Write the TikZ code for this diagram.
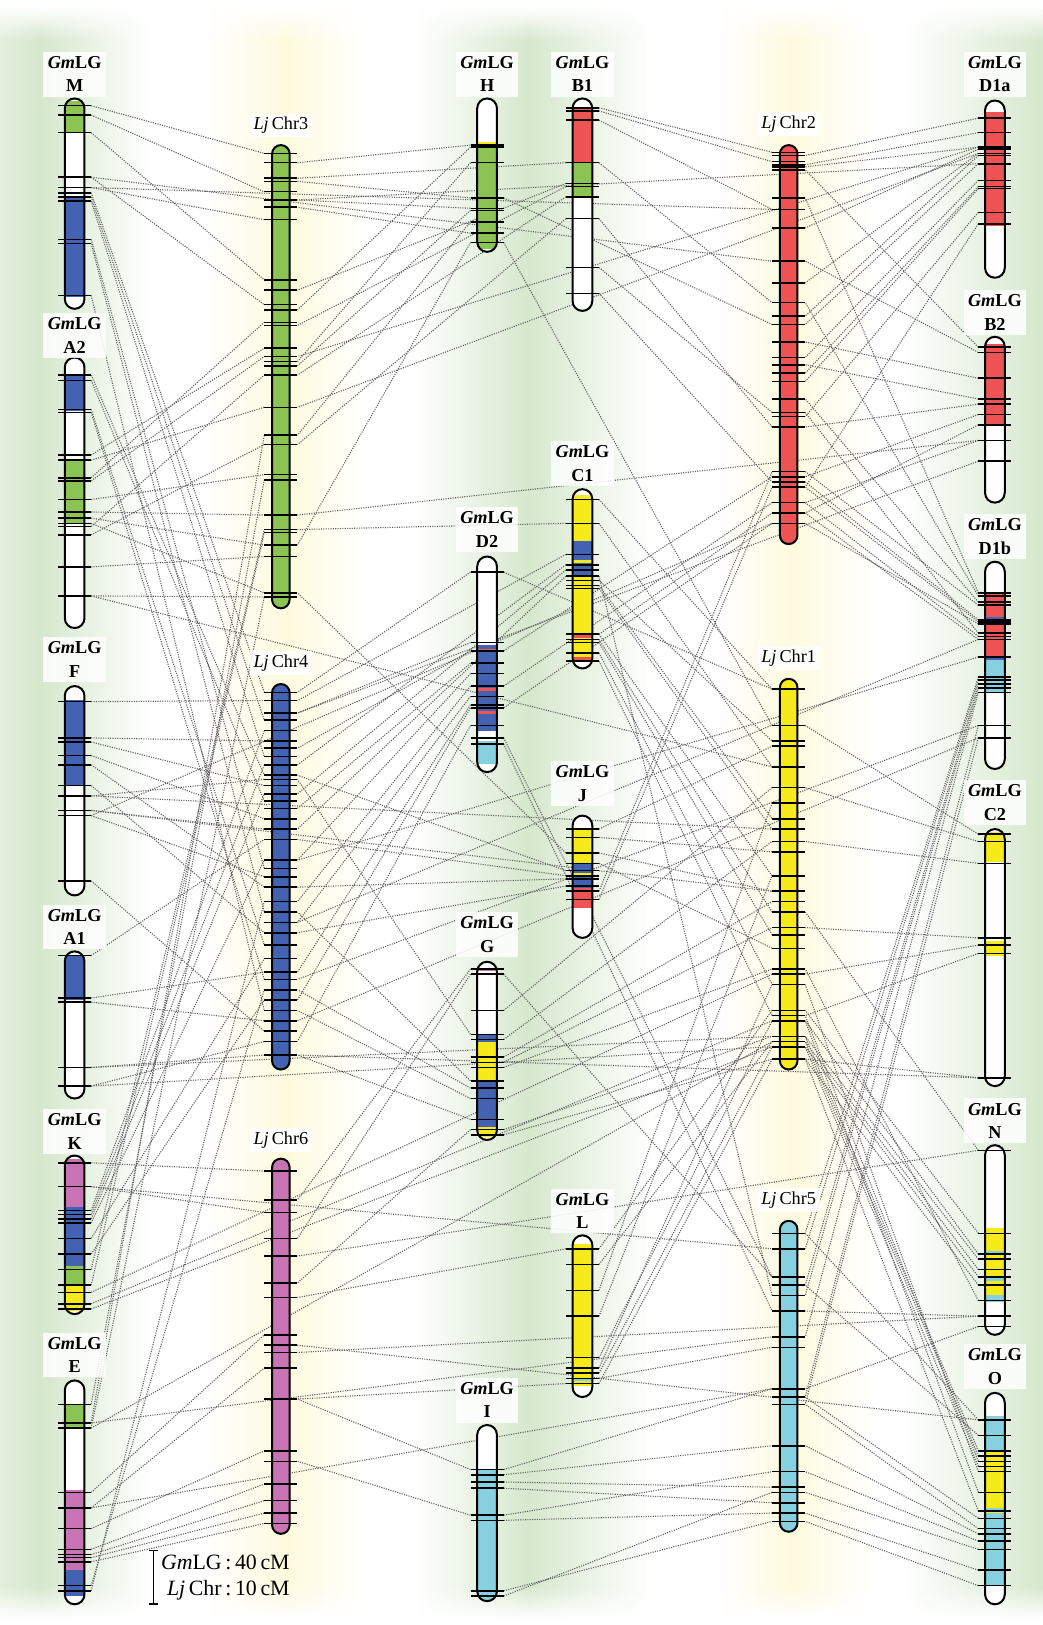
\documentclass[tikz,border=0pt]{standalone}
\usepackage{fontspec}
\setmainfont{Liberation Serif}
\usetikzlibrary{fadings}
\definecolor{lggreen}{RGB}{139,196,82}
\definecolor{lgblue}{RGB}{68,98,178}
\definecolor{lgred}{RGB}{238,84,84}
\definecolor{lgyellow}{RGB}{246,234,26}
\definecolor{lgpink}{RGB}{200,116,180}
\definecolor{lgcyan}{RGB}{134,208,224}
\definecolor{bandgreen}{RGB}{214,232,205}
\definecolor{bandyellow}{RGB}{254,250,222}
\pgfdeclarelayer{bands}
\pgfdeclarelayer{links}
\pgfsetlayers{bands,links,main}
\tikzset{
  chrom/.style={draw=black, line width=1.1pt},
  tickpt/.style={inner sep=0pt, outer sep=0pt, minimum width=0.64cm, minimum height=0pt},
  tickln/.style={draw=black, line width=0.85pt},
  link/.style={draw=black!62, line width=0.6pt, dash pattern=on 0.6pt off 0.7pt},
  gmlab/.style={fill=white, fill opacity=0.85, text opacity=1, inner sep=2.5pt, align=center, font=\fontsize{10}{13}\selectfont\bfseries},
  ljlab/.style={fill=white, fill opacity=0.85, text opacity=1, inner sep=2pt, font=\fontsize{10}{12}\selectfont},
}
% name, x, top, bottom, half width, segments, ticks
\newcommand{\chrom}[7]{%
  \begin{scope}
    \clip[rounded corners=#5*0.02cm] (#2-#5,#3) rectangle (#2+#5,#4);
    \fill[white] (#2-#5,#3) rectangle (#2+#5,#4);
    \foreach \ya/\yb/\sc in {#6} \fill[\sc] (#2-#5,\ya) rectangle (#2+#5,\yb);
  \end{scope}
  \draw[chrom, rounded corners=#5*0.02cm] (#2-#5,#3) rectangle (#2+#5,#4);
  \foreach \ty [count=\ti] in {#7} {
    \node[tickpt] (#1-\ti) at (#2,\ty) {};
    \draw[tickln] (#1-\ti.west) -- (#1-\ti.east);
  }%
}

\begin{document}
\begin{tikzpicture}[x=0.02cm, y=-0.02cm]
\useasboundingbox (0,0) rectangle (1006,1568);

% background bands
\begin{pgfonlayer}{bands}
\fill[white] (0,0) rectangle (1006,1568);
\shade[left color=bandgreen!70, right color=bandgreen] (0,8) rectangle (40,1560);
\shade[left color=bandgreen, right color=white] (40,8) rectangle (145,1560);
\shade[left color=white, right color=bandyellow] (195,8) rectangle (275,1560);
\shade[left color=bandyellow, right color=white] (275,8) rectangle (350,1560);
\shade[left color=white, right color=bandgreen] (400,8) rectangle (510,1560);
\shade[left color=bandgreen, right color=white] (510,8) rectangle (630,1560);
\shade[left color=white, right color=bandyellow] (690,8) rectangle (765,1560);
\shade[left color=bandyellow, right color=white] (765,8) rectangle (840,1560);
\shade[left color=white, right color=bandgreen] (870,8) rectangle (1006,1560);
\fill[white, path fading=south] (0,6) rectangle (1006,40);
\fill[white, path fading=north] (0,1530) rectangle (1006,1562);
\end{pgfonlayer}

% Lotus chromosomes
\chrom{Lj3}{271}{140}{587}{8.5}{140/587/lggreen}{148,157,172,175,185,193,200,212,270,280,294,299,311,314,336,344,349,353,362,393,420,429,458,463,497,511,514,526,537,572,576}
\chrom{Lj4}{271}{660}{1032}{8.5}{660/1032/lgblue}{668,676,688,695,705,715,722,730,738,748,752,758,766,773,780,790,800,810,830,838,846,856,870,880,890,900,912,925,938,945,955,965,975,985,995,1005,1018}
\chrom{Lj6}{271}{1118}{1480}{8.5}{1118/1480/lgpink}{1130,1158,1170,1195,1212,1238,1252,1288,1298,1305,1320,1350,1400,1410,1432,1448,1460,1470}
\chrom{Lj2}{761}{140}{525}{8.5}{140/525/lgred}{147,150,156,159,161,164,191,202,220,252,273,292,305,313,330,345,352,360,368,385,398,402,412,455,460,465,470,485,495,505}
\chrom{Lj1}{761}{655}{1032}{8.5}{655/1032/lgyellow}{665,700,715,720,740,760,775,790,800,812,822,845,860,870,880,895,902,915,935,940,950,975,980,985,1000,1005,1010,1022}
\chrom{Lj5}{761}{1178}{1478}{8.5}{1178/1478/lgcyan}{1190,1205,1232,1240,1250,1265,1290,1300,1340,1348,1355,1395,1420,1435,1440,1450,1460,1468}

% soybean linkage groups
\chrom{M}{72}{95}{298}{9.5}{97/128/lggreen,191/287/lgblue}{102,111,128,171,181,186,190,194,231,235,285}
\chrom{A2}{72}{345}{606}{9.5}{362/397/lgblue,444/505/lggreen}{362,367,395,398,439,444,461,464,482,494,500,505,508,516,547,575}
\chrom{F}{72}{662}{864}{9.5}{675/758/lgblue}{677,712,716,729,738,758,768,782,787,850}
\chrom{A1}{72}{918}{1060}{9.5}{922/965/lgblue}{922,963,967,1030,1048}
\chrom{K}{72}{1115}{1268}{9.5}{1118/1165/lgpink,1165/1222/lgblue,1222/1240/lggreen,1240/1265/lgyellow}{1122,1145,1168,1172,1176,1180,1195,1210,1225,1240,1247,1258,1263}
\chrom{E}{72}{1332}{1548}{9.5}{1355/1378/lggreen,1438/1515/lgpink,1515/1540/lgblue}{1355,1373,1378,1440,1455,1475,1495,1500,1503,1507,1530,1535}
\chrom{H}{470}{95}{243}{9.5}{137/140/lgyellow,140/240/lggreen}{140,142,157,191,201,203,214,225,234}
\chrom{D2}{470}{537}{745}{9.5}{622/705/lgblue,626/629/lgred,664/667/lgred,686/689/lgred,715/737/lgcyan}{552,620,628,640,650,662,672,680,683,700,712,718}
\chrom{G}{470}{928}{1100}{9.5}{934/937/lgpink,998/1005/lgblue,1005/1042/lgyellow,1042/1087/lgblue,1087/1097/lgyellow}{935,940,975,998,1003,1020,1025,1030,1043,1050,1060,1080,1090,1095}
\chrom{I}{470}{1375}{1545}{9.5}{1418/1545/lgcyan}{1418,1423,1430,1436,1462,1467,1535,1540}
\chrom{B1}{562}{95}{300}{9.5}{103/157/lgred,157/190/lggreen}{104,107,116,157,177,180,190,211,258,283}
\chrom{C1}{562}{472}{645}{9.5}{478/522/lgyellow,522/557/lgblue,540/543/lgyellow,557/612/lgyellow,612/616/lgred,616/634/lgyellow,634/639/lgred}{482,505,535,545,550,556,560,565,568,612,617,620,630,638}
\chrom{J}{562}{787}{905}{9.5}{800/833/lgyellow,833/857/lgblue,842/845/lgyellow,857/876/lgred}{800,808,823,833,840,845,848,855,860,868}
\chrom{L}{562}{1192}{1348}{9.5}{1200/1330/lgyellow,1330/1333/lgcyan,1333/1337/lgyellow}{1205,1220,1245,1270,1310,1320,1325,1330,1335}
\chrom{D1a}{960}{97}{268}{9.5}{108/218/lgred}{114,128,142,144,148,150,158,174,180,182,205,216}
\chrom{B2}{960}{325}{485}{9.5}{332/410/lgred}{335,340,365,385,390,400,410,425,445}
\chrom{D1b}{960}{542}{742}{9.5}{572/633/lgred,595/598/lgblue,633/637/lgblue,637/669/lgcyan}{572,575,581,584,598,600,602,611,614,617,634,653,656,660,664,668,700,712}
\chrom{C2}{960}{800}{1048}{9.5}{803/832/lgyellow,908/922/lgyellow}{805,812,833,905,912,920,1040}
\chrom{N}{960}{1105}{1288}{9.5}{1185/1255/lgyellow,1207/1210/lgcyan,1233/1236/lgcyan,1250/1256/lgcyan}{1110,1190,1210,1215,1225,1232,1240,1255,1270,1280}
\chrom{O}{960}{1344}{1548}{9.5}{1366/1400/lgcyan,1400/1460/lgyellow,1455/1458/lgcyan,1460/1530/lgcyan}{1370,1385,1400,1405,1410,1415,1420,1440,1458,1465,1475,1480,1487,1495,1515,1530}

% synteny links
\begin{pgfonlayer}{links}
\foreach \a/\b in {M-1/Lj3-1,M-2/Lj3-5,M-3/Lj3-9,M-4/Lj3-11,M-5/Lj3-8,
  M-6/Lj4-1,M-7/Lj4-4,M-8/Lj4-8,M-9/Lj4-20,M-10/Lj4-24,M-11/Lj4-33,
  A2-1/Lj4-10,A2-2/Lj4-14,A2-3/Lj4-27,A2-4/Lj4-30,
  A2-5/Lj3-15,A2-6/Lj3-20,A2-7/Lj3-13,A2-8/Lj3-16,A2-9/Lj3-23,A2-10/Lj3-25,A2-11/Lj3-28,A2-12/Lj3-30,A2-13/Lj3-19,A2-14/Lj3-22,A2-15/Lj3-29,A2-16/Lj3-31,
  F-1/Lj4-2,F-2/Lj4-6,F-3/Lj4-12,F-4/Lj4-16,F-5/Lj4-22,F-6/Lj4-26,F-7/Lj4-11,F-8/Lj4-17,F-9/Lj4-21,F-10/Lj4-35,
  A1-1/Lj4-18,A1-2/Lj4-29,A1-3/Lj4-34,A1-4/Lj4-37,A1-5/Lj4-36,
  K-1/Lj6-1,K-2/Lj6-3,K-3/Lj4-5,K-4/Lj4-9,K-5/Lj4-13,K-6/Lj4-19,K-7/Lj4-28,K-8/Lj4-32,K-9/Lj3-26,K-10/Lj3-27,
  E-1/Lj3-24,E-2/Lj3-21,E-3/Lj3-31,E-4/Lj6-8,E-5/Lj6-11,E-6/Lj6-13,E-7/Lj6-15,E-8/Lj6-16,E-9/Lj6-17,E-10/Lj6-18,E-11/Lj4-31,E-12/Lj4-23,
  K-11/Lj1-20,K-12/Lj1-24,K-13/Lj1-27,
  F-7/Lj1-9,F-8/Lj1-13,F-9/Lj2-30,A2-16/Lj1-5,M-4/Lj2-10,M-5/Lj2-8,A1-4/Lj1-25,A1-5/Lj1-27,
  E-2/Lj5-7,E-5/Lj5-9,E-3/Lj1-26,K-2/Lj5-2,
  D2-11/Lj5-3,D2-12/Lj5-6,D2-3/Lj2-25,D2-6/Lj2-28,D2-9/Lj2-30,D2-1/Lj1-1,
  G-3/Lj1-6,G-5/Lj1-10,G-6/Lj1-14,G-7/Lj1-16,G-8/Lj1-19,G-13/Lj1-25,G-14/Lj1-28,G-2/Lj5-3,
  H-4/Lj2-14,H-9/Lj1-2,
  I-1/Lj5-9,I-2/Lj5-12,I-3/Lj5-14,I-4/Lj5-16,I-5/Lj5-13,I-6/Lj5-17,I-7/Lj5-18,I-8/Lj5-15,
  B1-1/Lj2-1,B1-2/Lj2-3,B1-3/Lj2-8,B1-4/Lj2-12,B1-9/Lj2-21,B1-10/Lj2-26,B1-8/Lj2-23,
  C1-1/Lj1-1,C1-2/Lj1-5,C1-7/Lj1-3,C1-8/Lj1-8,C1-9/Lj1-9,C1-10/Lj1-12,C1-11/Lj1-15,C1-12/Lj1-17,C1-13/Lj1-21,C1-14/Lj1-23,C1-10/Lj2-29,C1-6/Lj5-5,
  J-1/Lj1-4,J-2/Lj1-11,J-3/Lj1-13,J-4/Lj1-18,J-9/Lj2-24,J-10/Lj2-27,
  L-1/Lj1-22,L-2/Lj1-26,L-3/Lj1-7,L-4/Lj1-12,L-5/Lj1-24,L-6/Lj1-21,L-7/Lj1-27,L-8/Lj5-8,L-9/Lj1-28}
  \draw[link] (\a.east) -- (\b.west);
\foreach \a/\b in {H-1/Lj3-2,H-2/Lj3-12,H-3/Lj3-17,H-4/Lj3-4,H-5/Lj3-6,H-6/Lj3-18,H-7/Lj3-21,H-8/Lj3-7,H-9/Lj3-28,
  B1-4/Lj3-3,B1-5/Lj3-10,B1-6/Lj3-14,B1-7/Lj3-19,B1-8/Lj3-22,
  D2-1/Lj4-1,D2-2/Lj4-3,D2-3/Lj4-7,D2-4/Lj4-15,D2-5/Lj4-19,D2-6/Lj4-23,D2-7/Lj4-25,D2-8/Lj4-29,D2-9/Lj4-32,D2-10/Lj4-36,
  G-1/Lj6-2,G-2/Lj6-4,G-4/Lj4-11,G-9/Lj4-24,G-10/Lj4-31,G-11/Lj4-33,G-12/Lj4-37,G-13/Lj6-6,
  C1-3/Lj4-2,C1-4/Lj4-9,C1-5/Lj4-13,C1-6/Lj4-17,C1-2/Lj3-26,
  J-5/Lj4-10,J-6/Lj4-18,J-7/Lj4-22,J-8/Lj4-26,J-3/Lj3-30,
  I-1/Lj6-12,I-5/Lj6-14,L-1/Lj6-7,L-9/Lj6-12,
  D1b-11/Lj4-19,D1b-10/Lj4-25,D1b-17/Lj4-30,D1b-18/Lj4-34,C2-7/Lj4-37,
  D1a-3/Lj3-16,D1a-5/Lj3-20,D1a-7/Lj3-6,B2-8/Lj3-25,B2-9/Lj4-3,
  N-1/Lj6-5,O-1/Lj6-9,N-9/Lj6-10,
  D1a-1/Lj2-2,D1a-2/Lj2-4,D1a-3/Lj2-5,D1a-4/Lj2-9,D1a-5/Lj2-11,D1a-6/Lj2-13,D1a-7/Lj2-14,D1a-8/Lj2-16,D1a-9/Lj2-18,D1a-10/Lj2-19,D1a-11/Lj2-22,D1a-12/Lj2-27,
  B2-1/Lj2-6,B2-2/Lj2-10,B2-3/Lj2-15,B2-4/Lj2-17,B2-5/Lj2-23,B2-6/Lj2-25,B2-7/Lj2-29,B2-8/Lj2-28,
  D1b-1/Lj2-7,D1b-2/Lj2-12,D1b-3/Lj2-20,D1b-4/Lj2-24,D1b-5/Lj2-26,D1b-6/Lj2-27,D1b-7/Lj2-30,D1b-8/Lj2-21,D1b-9/Lj2-28,D1b-10/Lj2-29,
  D1b-12/Lj5-1,D1b-13/Lj5-2,D1b-14/Lj5-4,D1b-15/Lj5-5,D1b-16/Lj5-7,D1b-17/Lj5-10,D1b-18/Lj5-11,
  C2-1/Lj1-2,C2-2/Lj1-6,C2-3/Lj1-10,C2-4/Lj1-16,C2-5/Lj1-20,C2-6/Lj1-23,C2-7/Lj1-28,
  N-1/Lj1-15,N-2/Lj1-22,N-3/Lj1-24,N-4/Lj1-25,N-5/Lj1-26,N-6/Lj1-27,N-7/Lj1-28,N-8/Lj1-19,N-9/Lj5-6,N-10/Lj5-9,
  O-1/Lj5-1,O-2/Lj5-4,O-3/Lj1-25,O-4/Lj1-26,O-5/Lj1-23,O-6/Lj1-27,O-7/Lj1-21,O-8/Lj1-24,O-9/Lj1-28,
  O-10/Lj5-10,O-11/Lj5-11,O-12/Lj5-12,O-13/Lj5-13,O-14/Lj5-15,O-15/Lj5-17,O-16/Lj5-18}
  \draw[link] (\a.west) -- (\b.east);
\end{pgfonlayer}

% labels
\node[gmlab] (labM) at (72,71.5) {\textit{Gm}LG\\M};
\node[gmlab] (labA2) at (72,324) {\textit{Gm}LG\\A2};
\node[gmlab] (labF) at (72,636.5) {\textit{Gm}LG\\F};
\node[gmlab] (labA1) at (72,894.5) {\textit{Gm}LG\\A1};
\node[gmlab] (labK) at (72,1091.5) {\textit{Gm}LG\\K};
\node[gmlab] (labE) at (72,1307.5) {\textit{Gm}LG\\E};
\node[gmlab] (labH) at (470,71.5) {\textit{Gm}LG\\H};
\node[gmlab] (labD2) at (470,511) {\textit{Gm}LG\\D2};
\node[gmlab] (labG) at (470,902) {\textit{Gm}LG\\G};
\node[gmlab] (labI) at (470,1351) {\textit{Gm}LG\\I};
\node[gmlab] (labB1) at (562,71.5) {\textit{Gm}LG\\B1};
\node[gmlab] (labC1) at (562,447.5) {\textit{Gm}LG\\C1};
\node[gmlab] (labJ) at (562,756) {\textit{Gm}LG\\J};
\node[gmlab] (labL) at (562,1168.5) {\textit{Gm}LG\\L};
\node[gmlab] (labD1a) at (960,71.5) {\textit{Gm}LG\\D1a};
\node[gmlab] (labB2) at (960,301.5) {\textit{Gm}LG\\B2};
\node[gmlab] (labD1b) at (960,517.5) {\textit{Gm}LG\\D1b};
\node[gmlab] (labC2) at (960,774.5) {\textit{Gm}LG\\C2};
\node[gmlab] (labN) at (960,1081.5) {\textit{Gm}LG\\N};
\node[gmlab] (labO) at (960,1318.5) {\textit{Gm}LG\\O};
\node[ljlab] (labLj3) at (271,121) {\textit{Lj}\,Chr3};
\node[ljlab] (labLj4) at (271,640) {\textit{Lj}\,Chr4};
\node[ljlab] (labLj6) at (271,1100) {\textit{Lj}\,Chr6};
\node[ljlab] (labLj2) at (761,120) {\textit{Lj}\,Chr2};
\node[ljlab] (labLj1) at (761,635) {\textit{Lj}\,Chr1};
\node[ljlab] (labLj5) at (761,1158) {\textit{Lj}\,Chr5};

% scale bar
\draw[line width=0.9pt] (144,1496) -- (152,1496) (148,1496) -- (148,1548) (144,1548) -- (152,1548);
\node[anchor=west, align=right, font=\fontsize{12}{14}\selectfont, inner sep=0pt] (scale) at (155,1522) {\textit{Gm}LG\,:\,40\,cM\\\textit{Lj}\,Chr\,:\,10\,cM};
\end{tikzpicture}
\end{document}
